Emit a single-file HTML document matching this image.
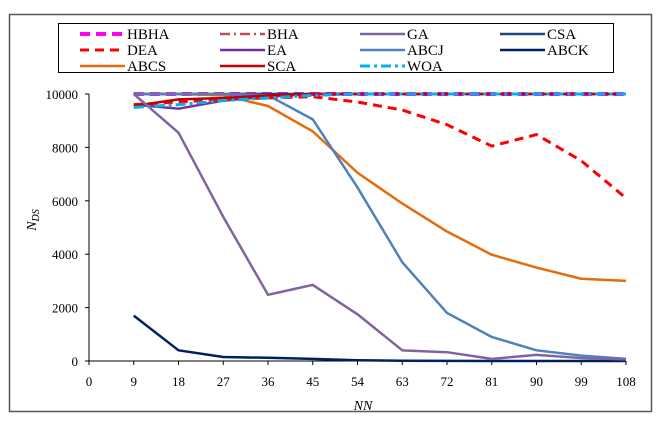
<!DOCTYPE html>
<html><head><meta charset="utf-8"><style>
body{margin:0;background:#fff}
svg{display:block}
text{font-family:"Liberation Serif","Times New Roman",serif}
</style></head><body>
<svg width="663" height="422" xmlns="http://www.w3.org/2000/svg" id="chart">
<rect x="9.5" y="14.5" width="642" height="397" fill="#fff" stroke="#555" stroke-width="1.5"/>
<g id="legend">
<rect x="58.5" y="23.5" width="555" height="49" fill="#fff" stroke="#000"/>
</g>
<g id="axes"></g>
<g id="series"></g>
<text x="363" y="410" font-size="14" font-style="italic" text-anchor="middle">NN</text>
<text transform="translate(36,220) rotate(-90)" font-size="14" font-style="italic" text-anchor="middle">N<tspan font-size="10" dy="3">DS</tspan></text>
</svg>
<script>
const xCats=[9,18,27,36,45,54,63,72,81,90,99,108];
const xTicks=[0,9,18,27,36,45,54,63,72,81,90,99,108];
const yTicks=[0,2000,4000,6000,8000,10000];
const names=["HBHA","BHA","GA","CSA","DEA","EA","ABCJ","ABCK","ABCS","SCA","WOA"];
const HBHA=[10000,10000,10000,10000,10000,10000,10000,10000,10000,10000,10000,10000];
const BHA=[10000,10000,10000,10000,10000,10000,10000,10000,10000,10000,10000,10000];
const GA=[10000,8550,5400,2480,2850,1750,400,330,80,230,110,60];
const CSA=[10000,10000,10000,10000,10000,10000,10000,10000,10000,10000,10000,10000];
const DEA=[9600,9700,9800,9850,9900,9700,9400,8850,8050,8480,7500,6100];
const EA=[9600,9450,9750,9900,10000,10000,10000,10000,10000,10000,10000,10000];
const ABCJ=[10000,10000,10000,9950,9050,6500,3700,1800,900,400,200,80];
const ABCK=[1700,400,150,120,80,30,10,5,0,0,0,0];
const ABCS=[10000,10000,9950,9550,8600,7050,5900,4850,3980,3500,3080,3000];
const SCA=[9550,9800,9850,9950,10000,10000,10000,10000,10000,10000,10000,10000];
const WOA=[9500,9600,9750,9850,9950,10000,10000,10000,10000,10000,10000,10000];
const styles={
HBHA:{c:"#ff00ff",w:4,d:"10,6"},BHA:{c:"#c0504d",w:2.5,d:"10,4,2,4"},GA:{c:"#8064a2",w:2.5,d:""},CSA:{c:"#1f497d",w:2.5,d:""},
DEA:{c:"#ff0000",w:3,d:"9,6"},EA:{c:"#7030a0",w:2.5,d:""},ABCJ:{c:"#4f81bd",w:2.5,d:""},ABCK:{c:"#002060",w:2.5,d:""},
ABCS:{c:"#e46c0a",w:2.5,d:""},SCA:{c:"#c00000",w:2.5,d:""},WOA:{c:"#00b0f0",w:3,d:"10,4,3,4"}};
const data={HBHA,BHA,GA,CSA,DEA,EA,ABCJ,ABCK,ABCS,SCA,WOA};
const X=v=>89+v*(626-89)/108, Y=v=>361-v*(361-94)/10000;
const NS="http://www.w3.org/2000/svg";
function mk(t,a,p){const e=document.createElementNS(NS,t);for(const k in a)e.setAttribute(k,a[k]);p.appendChild(e);return e;}
const ax=document.getElementById('axes');
let l=mk('line',{x1:X(0),x2:X(108),y1:Y(0),y2:Y(0),stroke:'#000'},ax);


l=mk('line',{x1:X(0),x2:X(0),y1:Y(0),y2:Y(10000),stroke:'#000'},ax);


xTicks.forEach(v=>{mk('line',{x1:X(v),x2:X(v),y1:Y(0),y2:Y(0)+4,stroke:'#000'},ax);
const t=mk('text',{x:X(v),y:386,'font-size':13,'text-anchor':'middle'},ax);t.textContent=v;

});
yTicks.forEach(v=>{mk('line',{x1:X(0)-4,x2:X(0),y1:Y(v),y2:Y(v),stroke:'#000'},ax);
const t=mk('text',{x:78,y:Y(v)+5,'font-size':13,'text-anchor':'end'},ax);t.textContent=v;

});
const sg=document.getElementById('series');
const order=["HBHA","BHA","CSA","ABCK","ABCS","ABCJ","EA","DEA","SCA","GA","WOA"];
order.forEach(n=>{const s=styles[n];
const p=mk('polyline',{points:data[n].map((v,i)=>X(xCats[i])+','+Y(v)).join(' '),fill:'none',stroke:s.c,'stroke-width':s.w,'stroke-dasharray':s.d,'stroke-linejoin':'round'},sg);

});
const lg=document.getElementById('legend');
names.forEach((n,i)=>{const col=i%4,row=Math.floor(i/4);const x=80+col*140,y=34+row*16;const s=styles[n];
const e=mk('g',{},lg);


mk('line',{x1:x,x2:x+45,y1:y,y2:y,stroke:s.c,'stroke-width':s.w,'stroke-dasharray':s.d},e);
const t=mk('text',{x:x+47,y:y+5,'font-size':15},e);t.textContent=n;});
</script>
</body></html>
